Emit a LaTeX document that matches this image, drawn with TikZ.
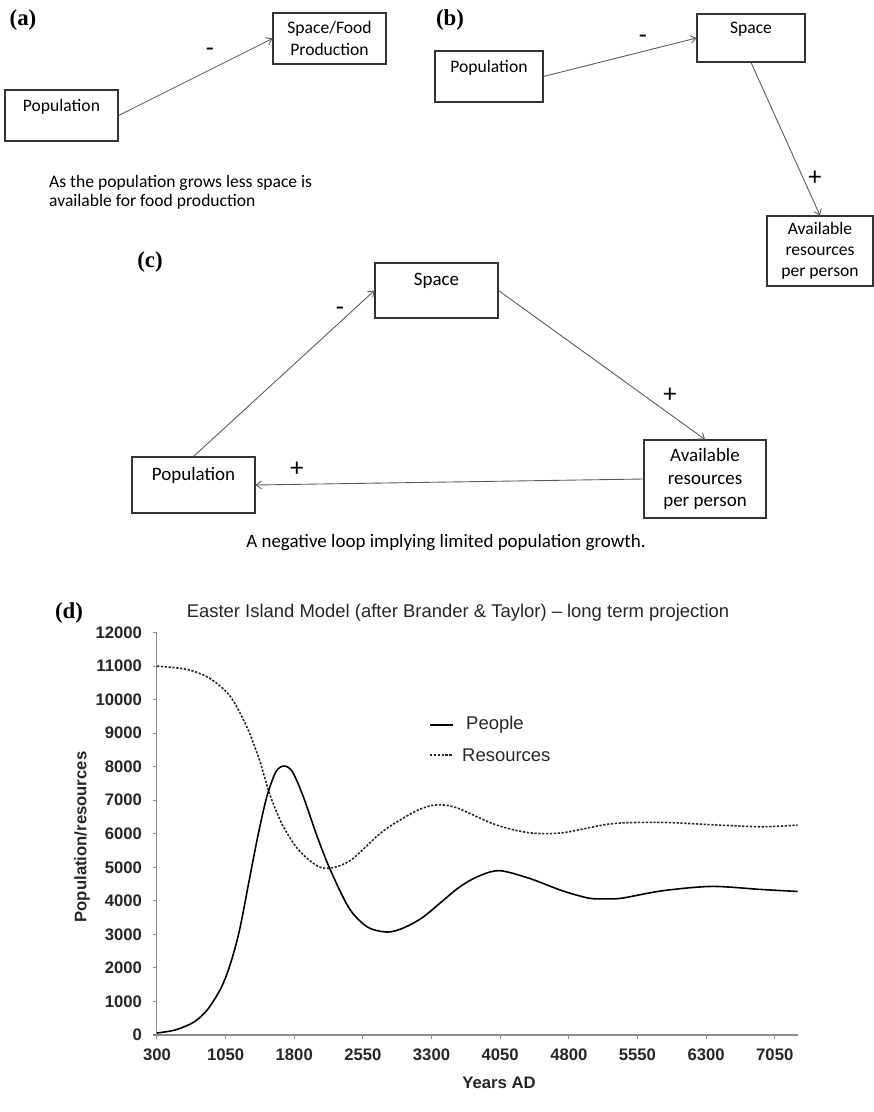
\documentclass[tikz,border=0pt]{standalone}
\usepackage{fontspec}
\setmainfont{Carlito}
\newfontfamily\chartfont{Liberation Sans}
\newfontfamily\panelfont{Liberation Serif}
\usetikzlibrary{arrows.meta}
\tikzset{
  panel/.style={font=\panelfont\bfseries\fontsize{13}{13}\selectfont},
  box/.style={draw=black!80, line width=0.6pt, inner sep=0pt, align=center, font=\fontsize{10}{12}\selectfont},
  bigbox/.style={box, font=\fontsize{10.8}{13}\selectfont},
  link/.style={draw=black!65, line width=0.5pt, -{Straight Barb[length=3pt,width=4.5pt]}},
  sign/.style={font=\fontsize{15}{15}\selectfont},
  axis/.style={draw=black!45, line width=0.6pt},
  tick/.style={font=\chartfont\bfseries\fontsize{9.5}{12}\selectfont, text=black!85},
  legend/.style={font=\chartfont\fontsize{10.5}{12}\selectfont, text=black!85},
  people/.style={draw=black, line width=0.9pt},
  resources/.style={draw=black!85, line width=0.9pt, dash pattern=on 1.3pt off 0.9pt}
}
\begin{document}
\begin{tikzpicture}[x=0.02cm, y=-0.02cm]
\useasboundingbox (0,0) rectangle (874,1112);
% (a)
\node[panel] (la) at (23,20) {(a)};
\node[box, minimum width=2.26cm, minimum height=1.02cm] (popa) at (61.5,115.5) {Population\\~};
\node[box, minimum width=2.26cm, minimum height=1.02cm] (fooda) at (329.5,38.5) {Space/Food\\Production};
\draw[link] (popa.east) -- (fooda.west);
\node[sign] (signa) at (210,52) {-};
\node[align=left, anchor=west, font=\fontsize{10}{11}\selectfont] (capa) at (43,192) {As the population grows less space is\\available for food production};
% (b)
\node[panel] (lb) at (450,20) {(b)};
\node[box, minimum width=2.16cm, minimum height=1.02cm] (popb) at (489,76.5) {Population\\~};
\node[box, minimum width=2.16cm, minimum height=0.96cm] (spaceb) at (751,38) {Space\\~};
\node[box, minimum width=2.12cm, minimum height=1.40cm] (availb) at (820,251) {Available\\resources\\per person};
\draw[link] (popb.east) -- (spaceb.west);
\draw[link] (spaceb.south) -- (availb.north);
\node[sign] (signb1) at (643,39) {-};
\node[sign] (signb2) at (815,178) {+};
% (c)
\node[panel] (lc) at (150,262) {(c)};
\node[bigbox, minimum width=2.46cm, minimum height=1.10cm] (spacec) at (436.5,290.5) {Space\\~};
\node[bigbox, minimum width=2.46cm, minimum height=1.12cm] (popc) at (193.5,485) {Population\\~};
\node[bigbox, minimum width=2.44cm, minimum height=1.56cm] (availc) at (705,479) {Available\\resources\\per person};
\draw[link] (popc.north) -- (spacec.west);
\draw[link] (spacec.east) -- (availc.north);
\draw[link] (availc.west) -- (popc.east);
\node[sign] (signc1) at (340,311) {-};
\node[sign] (signc2) at (670,395) {+};
\node[sign] (signc3) at (297,469) {+};
\node[font=\fontsize{10.8}{13}\selectfont] (capc) at (446,543) {A negative loop implying limited population growth.};
% (d)
\node[panel] (ld) at (69,613) {(d)};
\node[legend] (title) at (458,613) {Easter Island Model (after Brander \& Taylor) – long term projection};
\begin{scope}[shift={(129.49,1035)}, x=0.001834cm, y=0.00066383cm]
  \draw[axis] (300,12000) -- (300,0) -- (7300,0);
  \foreach \v in {0,1000,...,12000} {
    \draw[axis] (300,\v) -- ++(-2.5pt,0);
    \node[tick, anchor=east] (yl\v) at ([xshift=-5pt]300,\v) {\v};
  }
  \foreach \t in {300,1050,...,7050} {
    \draw[axis] (\t,0) -- ++(0,-2.5pt);
    \node[tick] (xl\t) at ([yshift=-11.5pt]\t,0) {\t};
  }
  \draw[resources] plot[smooth] coordinates {(300,11000) (630,10900) (880,10630) (1100,10100) (1280,9200) (1420,8200) (1530,7200) (1670,6270) (1860,5480) (2110,4980) (2400,5180) (2770,6080) (3140,6690) (3350,6860) (3570,6780) (4000,6270) (4370,6030) (4730,6030) (5270,6300) (5820,6340) (6360,6270) (6900,6210) (7300,6260)};
  \draw[people] plot[smooth] coordinates {(300,60) (500,150) (700,380) (850,750) (1000,1400) (1100,2100) (1200,3100) (1300,4500) (1400,5900) (1500,7100) (1600,7850) (1690,8020) (1780,7850) (1900,7100) (2045,5960) (2190,4950) (2400,3780) (2600,3220) (2820,3070) (3000,3200) (3200,3500) (3400,3950) (3600,4400) (3800,4720) (4040,4900) (4370,4670) (4730,4300) (5020,4080) (5200,4060) (5380,4080) (5820,4300) (6360,4430) (6900,4340) (7300,4280)};
\end{scope}
\node[tick, rotate=90] (ylabel) at (82,837) {Population/resources};
\node[tick] (xlabel) at (499,1083) {Years AD};
\draw[people] (430,725) -- (453,725);
\node[legend, anchor=west] (lgpeople) at (460,725) {People};
\draw[resources] (430,755) -- (453,755);
\node[legend, anchor=west] (lgres) at (456,755) {Resources};
\end{tikzpicture}
\end{document}
